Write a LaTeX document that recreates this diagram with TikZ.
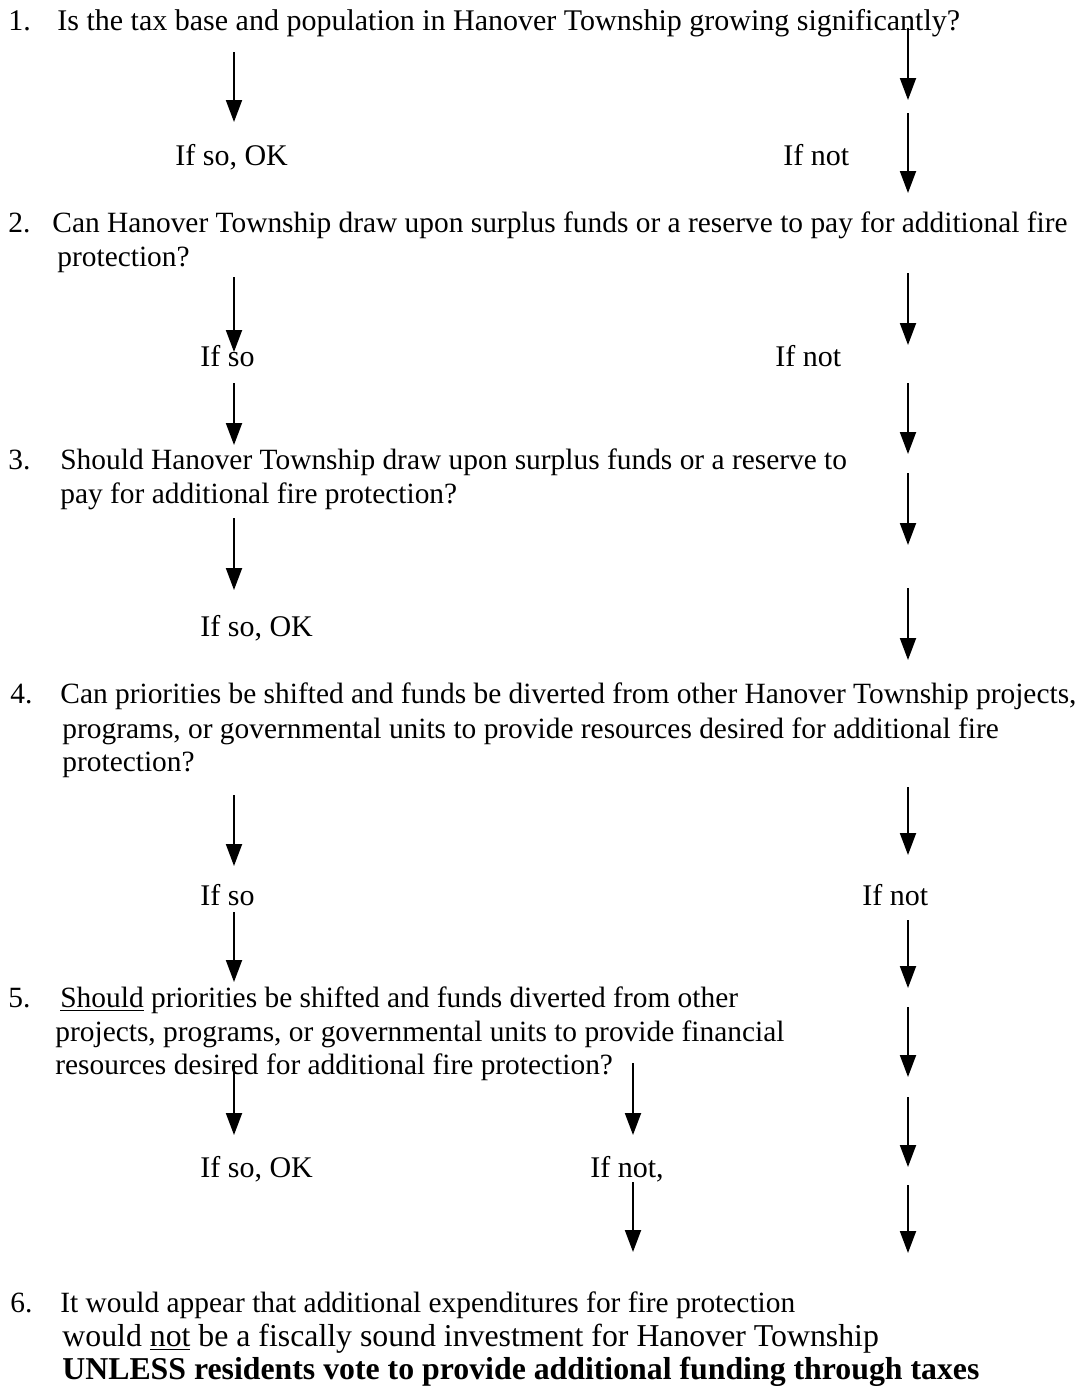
\documentclass[tikz,border=0pt]{standalone}
\usepackage{fontspec}
\setmainfont{Liberation Serif}
\usetikzlibrary{arrows.meta}
\begin{document}
\begin{tikzpicture}[x=0.5pt, y=-0.5pt,
    qline/.style={anchor=base west, inner sep=0pt, font=\fontsize{14.7}{17}\selectfont},
    bigline/.style={qline, font=\fontsize{15.9}{18}\selectfont},
    answer/.style={qline, font=\fontsize{15}{17}\selectfont},
    down/.style={-{Triangle[length=11pt, width=8pt]}, line width=1pt}
  ]
  \useasboundingbox (0,0) rectangle (1082,1389);
  % Question 1
  \node[answer] (n1) at (8,30) {1.};
  \node[answer] (q1) at (57,30) {Is the tax base and population in Hanover Township growing significantly?};
  \node[answer] (yes1) at (175,165) {If so, OK};
  \node[answer] (no1) at (783,165) {If not};
  % Question 2
  \node[qline] (n2) at (8,232) {2.};
  \node[qline] (q2a) at (52,232) {Can Hanover Township draw upon surplus funds or a reserve to pay for additional fire};
  \node[qline] (q2b) at (57,266) {protection?};
  \node[answer] (yes2) at (200,366) {If so};
  \node[answer] (no2) at (775,366) {If not};
  % Question 3
  \node[qline] (n3) at (8,469) {3.};
  \node[qline] (q3a) at (60,469) {Should Hanover Township draw upon surplus funds or a reserve to};
  \node[qline] (q3b) at (60,503) {pay for additional fire protection?};
  \node[answer] (yes3) at (200,636) {If so, OK};
  % Question 4
  \node[qline] (n4) at (10,703) {4.};
  \node[qline] (q4a) at (60,703) {Can priorities be shifted and funds be diverted from other Hanover Township projects,};
  \node[qline] (q4b) at (62,738) {programs, or governmental units to provide resources desired for additional fire};
  \node[qline] (q4c) at (62,771) {protection?};
  \node[answer] (yes4) at (200,905) {If so};
  \node[answer] (no4) at (862,905) {If not};
  % Question 5
  \node[qline] (n5) at (8,1007) {5.};
  \node[qline] (q5a) at (60,1007) {\underline{Should} priorities be shifted and funds diverted from other};
  \node[qline] (q5b) at (55,1041) {projects, programs, or governmental units to provide financial};
  \node[qline] (q5c) at (55,1074) {resources desired for additional fire protection?};
  \node[answer] (yes5) at (200,1177) {If so, OK};
  \node[answer] (no5) at (590,1177) {If not,};
  % Conclusion 6
  \node[qline] (n6) at (10,1312) {6.};
  \node[qline] (c6a) at (60,1312) {It would appear that additional expenditures for fire protection};
  \node[bigline] (c6b) at (62,1346) {would \underline{not} be a fiscally sound investment for Hanover Township};
  \node[bigline] (c6c) at (62,1379) {\textbf{UNLESS residents vote to provide additional funding through taxes}};
  % Arrows
  \foreach \name/\x/\ya/\yb in {
      la/234/52/122, lb/234/277/352, lc/234/383/445, ld/234/518/590,
      le/234/795/866, lf/234/912/982, lg/234/1065/1135,
      ma/633/1063/1135, mb/633/1182/1252,
      ra/908/28/100, rb/908/113/193, rc/908/273/345, rd/908/383/454,
      re/908/473/545, rf/908/588/660, rg/908/787/855, rh/908/920/988,
      ri/908/1007/1077, rj/908/1097/1167, rk/908/1185/1253}{
    \coordinate (\name-top) at (\x,\ya);
    \coordinate (\name-tip) at (\x,\yb);
    \draw[down] (\name-top) -- (\name-tip);
  }
\end{tikzpicture}
\end{document}
